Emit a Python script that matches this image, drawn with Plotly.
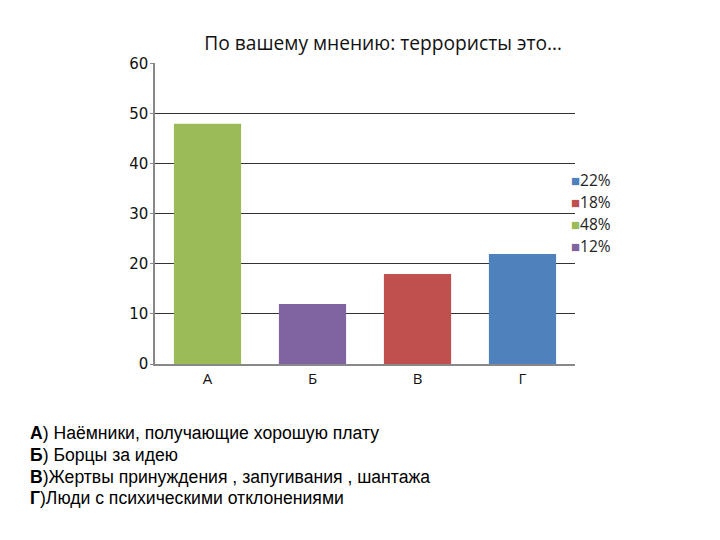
import plotly.graph_objects as go

categories = ["А", "Б", "В", "Г"]
values = [48, 12, 18, 22]
colors = ["#9BBB59", "#8064A2", "#C0504D", "#4F81BD"]
legend_labels = ["48%", "12%", "18%", "22%"]
legend_order = [3, 2, 0, 1]  # Г, В, А, Б

title_text = "По вашему мнению: террористы это…"
notes = [
    "<b>А</b>) Наёмники, получающие хорошую плату",
    "<b>Б</b>) Борцы за идею",
    "<b>В</b>)Жертвы принуждения , запугивания , шантажа",
    "<b>Г</b>)Люди с психическими отклонениями",
]
note_y = [-0.229, -0.302, -0.375, -0.445]
legend_y = [0.611, 0.538, 0.465, 0.392]

fig = go.Figure()
fig.add_trace(go.Bar(
    x=categories, y=values,
    marker=dict(color=colors, line=dict(width=0)),
    width=0.64, showlegend=False,
))

annotations = [dict(
    text=t, xref="paper", yref="paper",
    x=-0.302, y=yy, xanchor="left", yanchor="middle", align="left",
    showarrow=False,
    font=dict(family="Liberation Sans", size=17.6, color="#000"),
) for t, yy in zip(notes, note_y)]

for k, i in enumerate(legend_order):
    annotations.append(dict(
        text=f"<span style='color:{colors[i]};font-size:15px'>■</span>{legend_labels[i]}",
        xref="paper", yref="paper", x=0.985, y=legend_y[k],
        xanchor="left", yanchor="middle", align="left", showarrow=False,
        font=dict(family="Open Sans", size=15.5, color="#222"),
    ))

fig.update_layout(
    width=720, height=540,
    margin=dict(l=147, r=153, t=55, b=184),
    paper_bgcolor="white", plot_bgcolor="white",
    showlegend=False,
    title=dict(text=title_text, x=0.521, xanchor="center", y=0.935, yanchor="middle",
               font=dict(family="Open Sans", size=19.2, color="#111")),
    xaxis=dict(categoryorder="array", categoryarray=categories,
               showline=True, linecolor="#888", linewidth=1.5,
               ticks="", tickfont=dict(family="Open Sans", size=15, color="#111"),
               showgrid=False),
    yaxis=dict(range=[0, 60.15], tickvals=[0, 10, 20, 30, 40, 50, 60],
               showline=True, linecolor="#888", linewidth=1.5,
               ticks="outside", ticklen=3, tickcolor="#888",
               ticklabelstandoff=-1,
               showgrid=True, gridcolor="#333", gridwidth=1,
               zeroline=False,
               tickfont=dict(family="DejaVu Sans", size=15, color="#111")),
    annotations=annotations,
)

fig.write_html("out.html")
